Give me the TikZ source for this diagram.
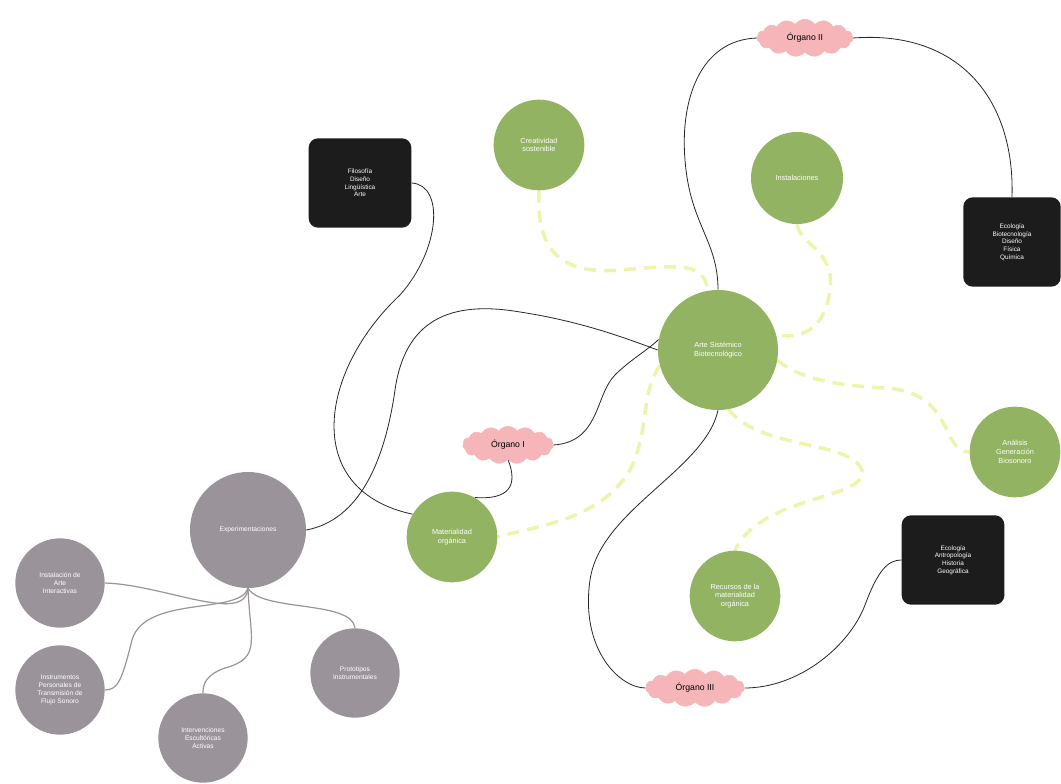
\documentclass[tikz,border=0pt]{standalone}
\usepackage{fontspec}
\setmainfont{Liberation Sans}
\usetikzlibrary{shapes.symbols,backgrounds}
\definecolor{leaf}{HTML}{92B362}
\definecolor{stone}{HTML}{9B939A}
\definecolor{ink}{HTML}{1C1C1C}
\definecolor{rose}{HTML}{F6B5B8}
\definecolor{lime}{HTML}{EEF4AC}
\tikzset{
  greennode/.style={circle,fill=leaf,text=white,font=\fontsize{5.5}{6.5}\selectfont,align=center,inner sep=1pt},
  greynode/.style={circle,fill=stone,text=white,font=\fontsize{5}{6}\selectfont,align=center,inner sep=1pt},
  blackbox/.style={rectangle,rounded corners=7pt,fill=ink,text=white,font=\fontsize{4.8}{5.8}\selectfont,align=center,minimum width=77pt,minimum height=67pt},
  organ/.style={cloud,cloud puffs=15,cloud puff arc=110,aspect=2.6,fill=rose,draw=rose,text=black,font=\fontsize{6.5}{7.5}\selectfont,inner sep=1pt,minimum width=68pt,minimum height=28pt},
  link/.style={draw=black!85,line width=0.6pt},
  glink/.style={draw=stone,line width=0.9pt},
  dlink/.style={draw=lime,line width=2.6pt,dash pattern=on 9pt off 6pt},
}
\begin{document}
\begin{tikzpicture}[x=0.75pt,y=-0.75pt]
\useasboundingbox (0,0) rectangle (1061,784);

\node[greennode,minimum size=68pt] (cre) at (539,145) {Creatividad\\sostenible};
\node[greennode,minimum size=69pt] (inst) at (797,178) {Instalaciones};
\node[greennode,minimum size=90pt] (ctr) at (718,350) {Arte Sistémico\\Biotecnológico};
\node[greennode,minimum size=68pt] (ana) at (1015,452) {Análisis\\Generación\\Biosonoro};
\node[greennode,minimum size=68pt] (mat) at (452,537) {Materialidad\\orgánica};
\node[greennode,minimum size=68pt] (rec) at (735,596) {Recursos de la\\materialidad\\orgánica};

\node[blackbox] (b1) at (360,183) {Filosofía\\Diseño\\Lingüística\\Arte};
\node[blackbox,minimum width=73pt] (b2) at (1012,242) {Ecología\\Biotecnología\\Diseño\\Física\\Química};
\node[blackbox] (b3) at (953,560) {Ecología\\Antropología\\Historia\\Geográfica};

\node[organ] (o1) at (508,445) {Órgano I};
\node[organ,minimum width=72pt] (o2) at (805,38) {Órgano II};
\node[organ,minimum width=74pt] (o3) at (695,688) {Órgano III};

\node[greynode,minimum size=87pt] (exp) at (248,530) {Experimentaciones};
\node[greynode,minimum size=67pt] (g1) at (60,583) {Instalación de\\Arte\\Interactivas};
\node[greynode,minimum size=67pt] (g2) at (60,690) {Instrumentos\\Personales de\\Transmisión de\\Flujo Sonoro};
\node[greynode,minimum size=67pt] (g3) at (203,738) {Intervenciones\\Escultóricas\\Activas};
\node[greynode,minimum size=67pt] (g4) at (355,673) {Prototipos\\Instrumentales};

\begin{scope}[on background layer]
\fill[white] (0,0) rectangle (1061,784);
% dashed connectors
\path[dlink] (cre.south) .. controls (536,250) and (560,275) .. (620,270) .. controls (680,265) and (705,262) .. (ctr.100);
\path[dlink] (inst.south) .. controls (800,245) and (835,250) .. (830,290) .. controls (825,330) and (800,340) .. (ctr.15);
\path[dlink] (ctr.-10) .. controls (800,378) and (830,385) .. (885,388) .. controls (955,392) and (940,452) .. (ana.west);
\path[dlink] (ctr.-80) .. controls (760,450) and (850,440) .. (862,470) .. controls (868,500) and (760,495) .. (rec.north);
\path[dlink] (ctr.195) .. controls (640,395) and (650,430) .. (630,470) .. controls (600,520) and (540,525) .. (mat.east);

% solid connectors
\path[link] (b1.east) .. controls (445,185) and (440,250) .. (400,295) .. controls (320,370) and (300,490) .. (mat.150);
\path[link] (exp.east) .. controls (360,520) and (385,460) .. (395,390) .. controls (405,320) and (450,300) .. (520,312) .. controls (585,322) and (630,340) .. (ctr.west);
\path[link] (mat.60) .. controls (510,500) and (518,485) .. (o1.south);
\path[link] (o1.east) .. controls (600,442) and (595,395) .. (615,375) .. controls (630,360) and (645,352) .. (ctr.170);
\path[link] (o2.west) .. controls (700,40) and (680,100) .. (685,160) .. controls (690,225) and (718,240) .. (ctr.north);
\path[link] (o2.east) .. controls (960,30) and (1015,100) .. (b2.north);
\path[link] (ctr.south) .. controls (705,470) and (600,510) .. (590,580) .. controls (580,650) and (620,688) .. (o3.west);
\path[link] (o3.east) .. controls (800,688) and (850,645) .. (865,605) .. controls (878,570) and (888,560) .. (b3.west);

% grey connectors
\path[glink] (exp.south) .. controls (245,625) and (165,585) .. (g1.east);
\path[glink] (exp.south) .. controls (240,615) and (145,595) .. (132,640) .. controls (122,680) and (118,690) .. (g2.east);
\path[glink] (exp.south) .. controls (250,640) and (262,658) .. (225,668) .. controls (205,675) and (203,685) .. (g3.north);
\path[glink] (exp.south) .. controls (262,612) and (352,600) .. (g4.north);
\end{scope}
\end{tikzpicture}
\end{document}
